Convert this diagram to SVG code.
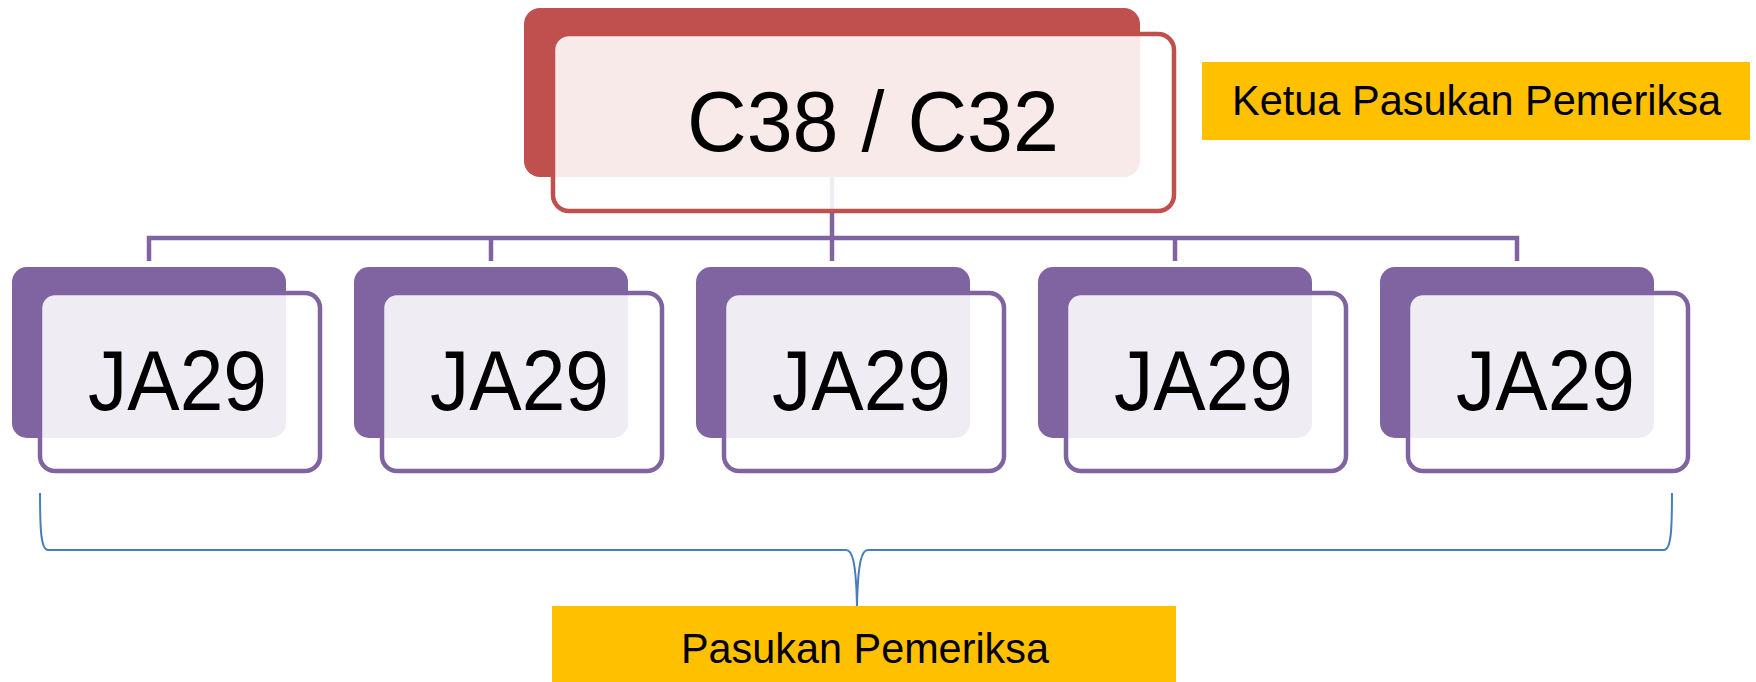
<svg xmlns="http://www.w3.org/2000/svg" width="1756" height="682" viewBox="0 0 1756 682">
<style>
.conn{fill:none;stroke:#8064A2;stroke-width:4.5;stroke-linejoin:miter}
.brace{fill:none;stroke:#4A7EBB;stroke-width:2}
.backR{fill:#C0504D}
.frontR{fill:#FFFFFF;fill-opacity:0.88;stroke:#C0504D;stroke-width:4.5}
.backP{fill:#8064A2}
.frontP{fill:#FFFFFF;fill-opacity:0.88;stroke:#8064A2;stroke-width:4.5}
.big{font-family:"Liberation Sans",Arial,sans-serif;font-size:86px;fill:#000}
.lbl{font-family:"Liberation Sans",Arial,sans-serif;font-size:42px;fill:#000}
.tag{fill:#FFC000}
</style>
<rect width="1756" height="682" fill="#FFFFFF"/>
<g id="connectors">
  <path class="conn" d="M832,177 V261"/>
  <path class="conn" d="M149,261 V238 H1517 V261"/>
  <path class="conn" d="M491,238 V261"/>
  <path class="conn" d="M1175,238 V261"/>
  <path class="brace" d="M40,493 C40,530 41,550 48,550 H846 C852,550 856,560 857,606 C858,560 862,550 868,550 H1664 C1671,550 1672,530 1672,493"/>
</g>
<g id="top">
  <rect class="backR" x="524" y="8" width="616" height="169" rx="16"/>
  <rect class="frontR" x="553" y="34" width="621" height="177" rx="16"/>
  <text class="big" x="687" y="151" textLength="372" lengthAdjust="spacingAndGlyphs">C38 / C32</text>
</g>
<g id="n1">
  <rect class="backP" x="12" y="267" width="274" height="171" rx="15"/>
  <rect class="frontP" x="40" y="293" width="280" height="178" rx="15"/>
  <text class="big" x="88" y="410" textLength="179" lengthAdjust="spacingAndGlyphs">JA29</text>
</g>
<g id="n2">
  <rect class="backP" x="354" y="267" width="274" height="171" rx="15"/>
  <rect class="frontP" x="382" y="293" width="280" height="178" rx="15"/>
  <text class="big" x="430" y="410" textLength="179" lengthAdjust="spacingAndGlyphs">JA29</text>
</g>
<g id="n3">
  <rect class="backP" x="696" y="267" width="274" height="171" rx="15"/>
  <rect class="frontP" x="724" y="293" width="280" height="178" rx="15"/>
  <text class="big" x="772" y="410" textLength="179" lengthAdjust="spacingAndGlyphs">JA29</text>
</g>
<g id="n4">
  <rect class="backP" x="1038" y="267" width="274" height="171" rx="15"/>
  <rect class="frontP" x="1066" y="293" width="280" height="178" rx="15"/>
  <text class="big" x="1114" y="410" textLength="179" lengthAdjust="spacingAndGlyphs">JA29</text>
</g>
<g id="n5">
  <rect class="backP" x="1380" y="267" width="274" height="171" rx="15"/>
  <rect class="frontP" x="1408" y="293" width="280" height="178" rx="15"/>
  <text class="big" x="1456" y="410" textLength="179" lengthAdjust="spacingAndGlyphs">JA29</text>
</g>
<g id="ketua">
  <rect class="tag" x="1202" y="62" width="548" height="78"/>
  <text class="lbl" x="1232" y="115" textLength="489" lengthAdjust="spacingAndGlyphs">Ketua Pasukan Pemeriksa</text>
</g>
<g id="pasukan">
  <rect class="tag" x="552" y="606" width="624" height="76"/>
  <text class="lbl" x="681" y="663" textLength="368" lengthAdjust="spacingAndGlyphs">Pasukan Pemeriksa</text>
</g>
</svg>
